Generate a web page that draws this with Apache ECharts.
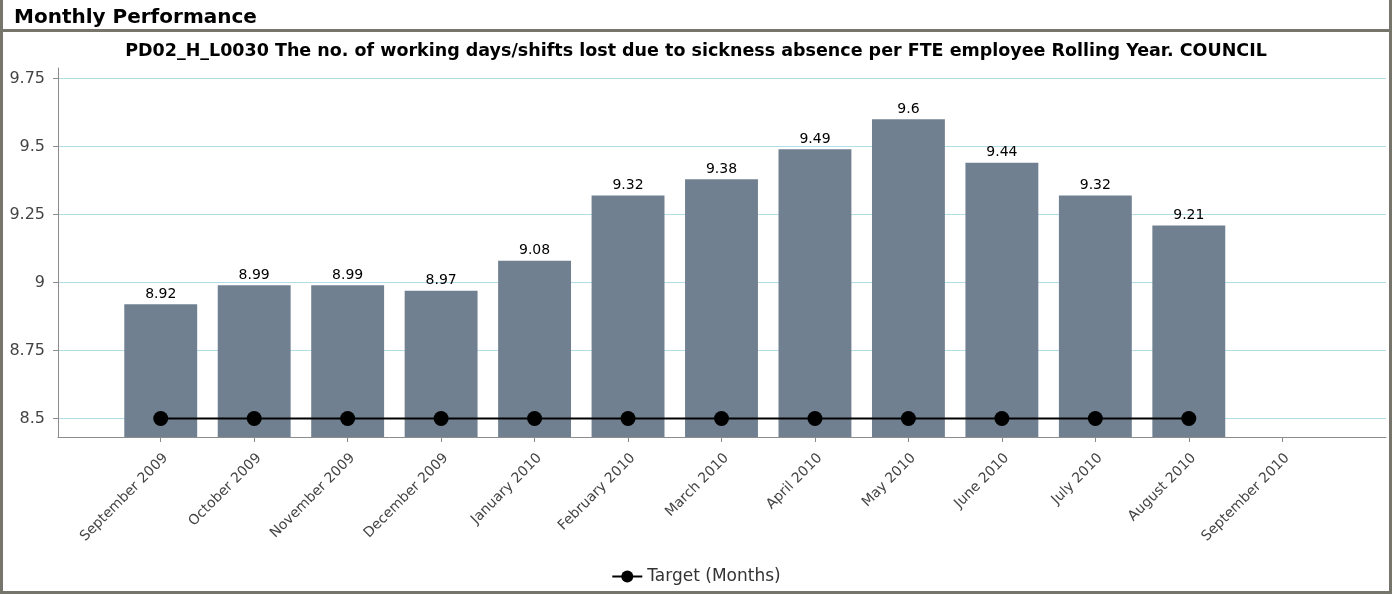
<!DOCTYPE html>
<html>
<head>
<meta charset="utf-8">
<title>Monthly Performance</title>
<script src="https://cdn.jsdelivr.net/npm/echarts@6/dist/echarts.min.js"></script>
<style>
  html, body { margin: 0; padding: 0; background: #ffffff; }
  #chart { width: 1392px; height: 594px; }
</style>
</head>
<body>
<div id="chart"></div>
<script>
// Rolling-year sickness absence per FTE employee, by month
const months = [
  'September 2009', 'October 2009', 'November 2009', 'December 2009',
  'January 2010', 'February 2010', 'March 2010', 'April 2010',
  'May 2010', 'June 2010', 'July 2010', 'August 2010', 'September 2010'
];
const daysLost = [8.92, 8.99, 8.99, 8.97, 9.08, 9.32, 9.38, 9.49, 9.6, 9.44, 9.32, 9.21, null];
const targetMonths = [8.5, 8.5, 8.5, 8.5, 8.5, 8.5, 8.5, 8.5, 8.5, 8.5, 8.5, 8.5, null];

const chartTitle = 'PD02_H_L0030 The no. of working days/shifts lost due to sickness absence per FTE employee Rolling Year. COUNCIL';
const panelTitle = 'Monthly Performance';
const targetName = 'Target (Months)';

// value range of the plot; gridlines every 0.25
const yMin = 8.432;
const yMax = 9.7886;
const yStep = 0.25;

const FRAME = '#75756b';
const FONT = 'DejaVu Sans';
const AXIS_GREY = '#8c8c8c';

const chart = echarts.init(document.getElementById('chart'), null, { renderer: 'canvas' });

chart.setOption({
  animation: false,
  backgroundColor: '#ffffff',
  title: [
    {
      text: panelTitle,
      left: 9, top: 3,
      textStyle: { fontFamily: FONT, fontWeight: 'bold', fontSize: 20, color: '#000' }
    },
    {
      text: chartTitle,
      left: 'center', top: 37,
      textStyle: { fontFamily: FONT, fontWeight: 'bold', fontSize: 17.5, color: '#000' }
    }
  ],
  legend: {
    data: [targetName],
    left: 'center', top: 563,
    itemWidth: 30, itemHeight: 15, itemGap: 4,
    textStyle: { fontFamily: FONT, fontSize: 17, color: '#333' }
  },
  grid: [
    // frame grid: value axis, gridlines and baseline
    { left: 58, right: 6, top: 68, bottom: 157 },
    // inner grid: month bands
    { left: 114, right: 63, top: 68, bottom: 157 }
  ],
  xAxis: [
    {
      gridIndex: 0, type: 'category', data: [''],
      axisLine: { lineStyle: { color: AXIS_GREY, width: 1 } },
      axisTick: { show: false }, axisLabel: { show: false }, splitLine: { show: false }
    },
    {
      gridIndex: 1, type: 'category', data: months,
      axisLine: { show: false },
      axisTick: { show: true, alignWithLabel: true, length: 5, lineStyle: { color: AXIS_GREY } },
      axisLabel: {
        rotate: 45, margin: 14, interval: 0, verticalAlign: 'top',
        fontFamily: FONT, fontSize: 14, color: '#444'
      },
      splitLine: { show: false }
    }
  ],
  yAxis: [
    {
      gridIndex: 0, type: 'value',
      min: yMin, max: yMax, minInterval: yStep, maxInterval: yStep,
      axisLine: { show: true, lineStyle: { color: AXIS_GREY, width: 1 } },
      axisTick: { show: true, length: 5, lineStyle: { color: AXIS_GREY } },
      axisLabel: {
        showMinLabel: false, showMaxLabel: false, margin: 13,
        fontFamily: FONT, fontSize: 16, color: '#444'
      },
      splitLine: {
        show: true, showMinLine: false, showMaxLine: false,
        lineStyle: { color: '#b0dde6', width: 1 }
      }
    },
    {
      gridIndex: 1, type: 'value',
      min: yMin, max: yMax, minInterval: yStep, maxInterval: yStep,
      show: false, splitLine: { show: false }
    }
  ],
  series: [
    {
      name: 'Sickness absence', type: 'bar',
      xAxisIndex: 1, yAxisIndex: 1,
      data: daysLost,
      barCategoryGap: '22%',
      itemStyle: { color: '#708090' },
      label: {
        show: true, position: 'top', distance: 3,
        fontFamily: FONT, fontSize: 14, color: '#000'
      }
    },
    {
      name: targetName, type: 'line',
      xAxisIndex: 1, yAxisIndex: 1,
      data: targetMonths,
      symbol: 'circle', symbolSize: 15,
      itemStyle: { color: '#000' },
      lineStyle: { color: '#000', width: 2 },
      z: 5
    }
  ],
  graphic: [
    { type: 'rect', shape: { x: 0, y: 0, width: 3, height: 594 }, style: { fill: FRAME }, silent: true },
    { type: 'rect', shape: { x: 1389, y: 0, width: 3, height: 594 }, style: { fill: FRAME }, silent: true },
    { type: 'rect', shape: { x: 0, y: 591, width: 1392, height: 3 }, style: { fill: FRAME }, silent: true },
    { type: 'rect', shape: { x: 0, y: 29, width: 1392, height: 3 }, style: { fill: FRAME }, silent: true }
  ]
});
</script>
</body>
</html>
